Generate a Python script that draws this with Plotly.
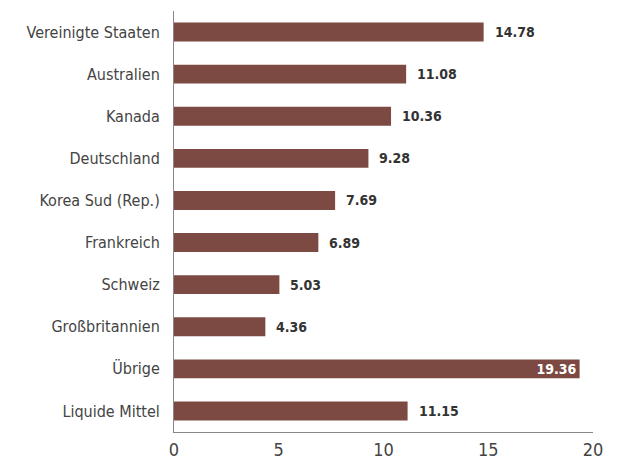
import plotly.graph_objects as go

categories = ["Vereinigte Staaten", "Australien", "Kanada", "Deutschland",
              "Korea Sud (Rep.)", "Frankreich", "Schweiz", "Großbritannien",
              "Übrige", "Liquide Mittel"]
values = [14.78, 11.08, 10.36, 9.28, 7.69, 6.89, 5.03, 4.36, 19.36, 11.15]
inside_labels = ["Übrige"]
x_ticks = [0, 5, 10, 15, 20]

FONT = "DejaVu Sans Condensed, Liberation Sans Narrow, sans-serif"
BAR = "#7c4a42"

fig = go.Figure()
fig.add_trace(go.Bar(
    y=categories, x=values, orientation="h",
    marker=dict(color=BAR, line=dict(width=0)),
    width=0.45,
    text=[f"{v:.2f}" if c in inside_labels else "" for c, v in zip(categories, values)],
    textposition="inside", insidetextanchor="end", constraintext="none",
    textfont=dict(family=FONT, size=14, color="white", weight="bold"),
    hoverinfo="skip",
))

for c, v in zip(categories, values):
    if c in inside_labels:
        continue
    fig.add_annotation(x=v, y=c, text=f"<b>{v:.2f}</b>", showarrow=False,
                       xanchor="left", xshift=9,
                       font=dict(family=FONT, size=14, color="#333333"))

fig.update_layout(
    width=610, height=455,
    margin=dict(l=166, r=25, t=3, b=31, autoexpand=False),
    paper_bgcolor="white", plot_bgcolor="white",
    showlegend=False,
    font=dict(family=FONT),
)
fig.update_xaxes(range=[0, 20], tickvals=x_ticks, showgrid=False, zeroline=False,
                 showline=True, linecolor="#888888", linewidth=1, automargin=False,
                 tickfont=dict(family=FONT, size=18, color="#444444"),
                 ticks="", ticklabelstandoff=1)
fig.update_yaxes(categoryorder="array", categoryarray=categories, autorange="reversed",
                 showgrid=False, zeroline=False, showline=True, linecolor="#888888",
                 linewidth=1, ticks="", ticklabelstandoff=10, automargin=False,
                 tickfont=dict(family=FONT, size=16, color="#444444"))

fig.write_html("out.html")
